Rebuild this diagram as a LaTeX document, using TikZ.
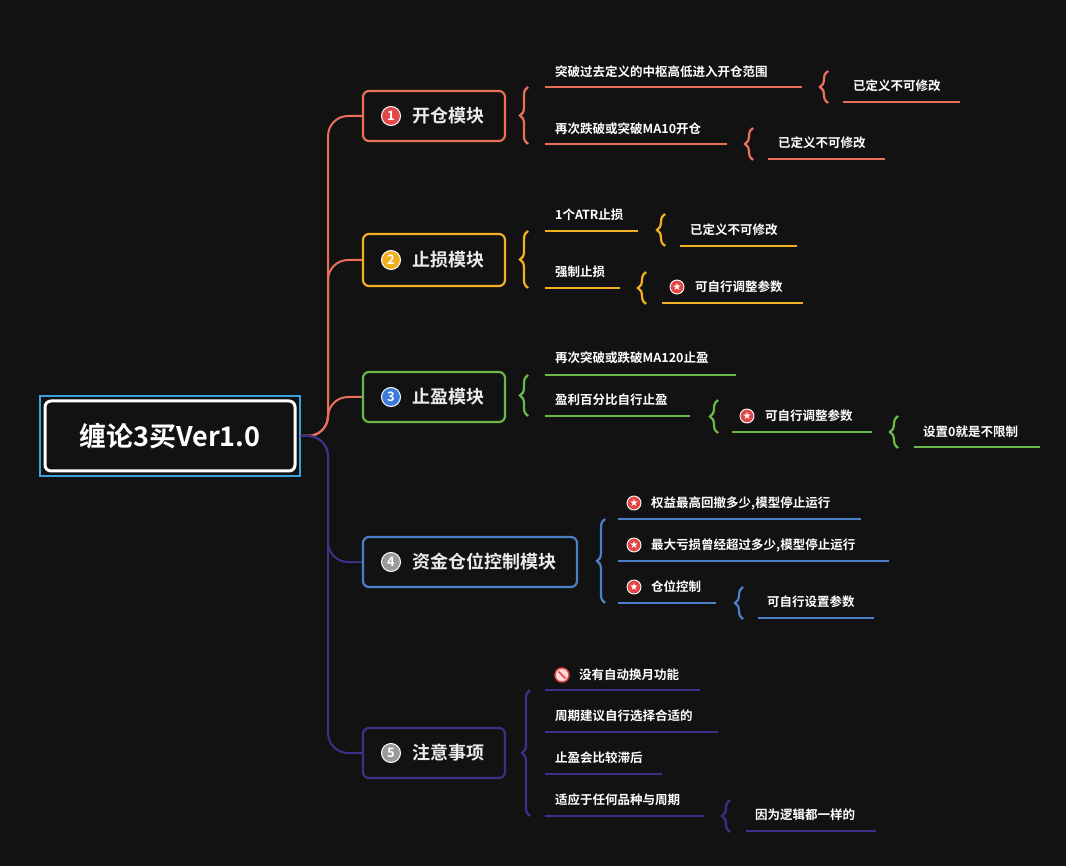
\documentclass[tikz,border=0pt]{standalone}
\usepackage{fontspec}
\setmainfont{Noto Sans CJK SC Bold}
\newfontfamily\djv{DejaVu Sans}
\usetikzlibrary{decorations.pathreplacing,calc}
\definecolor{bg}{HTML}{121212}
\definecolor{cR}{HTML}{E8705A}
\definecolor{cY}{HTML}{F0B020}
\definecolor{cG}{HTML}{6AB84A}
\definecolor{cB}{HTML}{4A80C8}
\definecolor{cP}{HTML}{3E3088}
\definecolor{cSky}{HTML}{3AA0E0}
\definecolor{icR}{HTML}{E04848}
\definecolor{icB}{HTML}{3A7ADA}
\definecolor{icG}{HTML}{9A9A9A}
\tikzset{
 lt/.style={text=white,font=\fontsize{12.5}{14}\selectfont,inner sep=0pt,anchor=west},
 ul/.style={draw=#1,line width=2pt},
 brc/.style={draw=#1,line width=2.2pt,decorate,decoration={brace,amplitude=8pt}},
 mainbox/.style={draw=#1,line width=2.2pt,rounded corners=6pt,fill=bg,minimum height=50pt,text=white!92!black,font=\fontsize{18}{20}\selectfont,inner sep=0pt},
 numic/.style={circle,fill=#1,draw=white,line width=1pt,minimum size=19pt,inner sep=0pt,text=white,font=\fontsize{13}{13}\selectfont},
 staric/.style={circle,fill=icR,draw=white,line width=0.9pt,minimum size=14pt,inner sep=0pt,text=white,font=\djv\fontsize{10}{10}\selectfont},
 conn/.style={draw=#1,line width=2pt,rounded corners=20pt},
}
\newcommand\leaf[8]{%
 \node[lt] (#1) at (#2,#3) {#8};
 \draw[ul=#7] (#4,#6) coordinate (#1a) -- (#5,#6) coordinate (#1b);}
\begin{document}
\begin{tikzpicture}[x=1pt,y=-1pt]
\fill[bg] (0,0) rectangle (1066,866);
\useasboundingbox (0,0) rectangle (1066,866);
% root
\node[draw=cSky,line width=1.2pt,minimum width=260pt,minimum height=80pt,inner sep=0pt] (rootout) at (170,436) {};
\node[draw=white,line width=3pt,rounded corners=6pt,minimum width=250pt,minimum height=70pt,text=white,font=\fontsize{27}{30}\selectfont] (root) at (170,436) {缠论3买Ver1.0};
% main nodes
\node[mainbox=cR,minimum width=142pt] (m1) at (434,116) {\hspace*{28pt}开仓模块};
\node[mainbox=cY,minimum width=142pt,minimum height=52pt] (m2) at (434,260) {\hspace*{28pt}止损模块};
\node[mainbox=cG,minimum width=142pt] (m3) at (434,397) {\hspace*{28pt}止盈模块};
\node[mainbox=cB,minimum width=214pt] (m4) at (470,562) {\hspace*{28pt}资金仓位控制模块};
\node[mainbox=cP,minimum width=142pt] (m5) at (434,753) {\hspace*{28pt}注意事项};
\node[numic=icR] (i1) at (391,116) {1};
\node[numic=cY] (i2) at (391,260) {2};
\node[numic=icB] (i3) at (391,397) {3};
\node[numic=icG] (i4) at (391,562) {4};
\node[numic=icG] (i5) at (391,753) {5};
% connectors
\draw[conn=cR] (rootout.east) -- (328,436) |- (m1.west);
\draw[conn=cR] (rootout.east) -- (328,436) |- (m2.west);
\draw[conn=cR] (rootout.east) -- (328,436) |- (m3.west);
\draw[conn=cP] (rootout.east) -- (328,436) |- (m4.west);
\draw[conn=cP] (rootout.east) -- (328,436) |- (m5.west);
% branch 1
\draw[brc=cR] (528,144) -- (528,87);
\leaf{a1}{555}{72}{545}{802}{87}{cR}{突破过去定义的中枢高低进入开仓范围}
\leaf{a2}{555}{129}{545}{727}{144}{cR}{再次跌破或突破MA10开仓}
\draw[brc=cR] (828,103) -- (828,71);
\leaf{a11}{853}{86}{843}{960}{102}{cR}{已定义不可修改}
\draw[brc=cR] (753,160) -- (753,128);
\leaf{a21}{778}{143}{768}{885}{159}{cR}{已定义不可修改}
% branch 2
\draw[brc=cY] (528,288) -- (528,231);
\leaf{b1}{555}{215}{545}{638}{231}{cY}{1个ATR止损}
\leaf{b2}{555}{272}{545}{620}{288}{cY}{强制止损}
\draw[brc=cY] (665,246) -- (665,214);
\leaf{b11}{690}{230}{680}{797}{246}{cY}{已定义不可修改}
\draw[brc=cY] (646,304) -- (646,272);
\node[staric] (s21) at (677,287) {★};
\leaf{b21}{695}{287}{662}{803}{303}{cY}{可自行调整参数}
% branch 3
\draw[brc=cG] (528,416) -- (528,375);
\leaf{c1}{555}{358}{545}{736}{375}{cG}{再次突破或跌破MA120止盈}
\leaf{c2}{555}{400}{545}{690}{416}{cG}{盈利百分比自行止盈}
\draw[brc=cG] (718,433) -- (718,400);
\node[staric] (s31) at (747,416) {★};
\leaf{c21}{765}{416}{732}{872}{432}{cG}{可自行调整参数}
\draw[brc=cG] (898,448) -- (898,416);
\leaf{c211}{923}{432}{914}{1040}{447}{cG}{设置0就是不限制}
% branch 4
\draw[brc=cB] (605,603) -- (605,519);
\node[staric] (s41) at (634,503) {★};
\leaf{d1}{651}{503}{618}{861}{519}{cB}{权益最高回撤多少,模型停止运行}
\node[staric] (s42) at (634,545) {★};
\leaf{d2}{651}{545}{618}{889}{561}{cB}{最大亏损曾经超过多少,模型停止运行}
\node[staric] (s43) at (634,587) {★};
\leaf{d3}{651}{587}{618}{716}{603}{cB}{仓位控制}
\draw[brc=cB] (743,619) -- (743,587);
\leaf{d31}{767}{602}{758}{874}{618}{cB}{可自行设置参数}
% branch 5
\draw[brc=cP] (530,816) -- (530,690);
\node[circle,draw=icR,line width=1.5pt,fill=white!85!red,minimum size=14pt,inner sep=0pt] (ban) at (562,675) {};
\draw[icR,line width=1.5pt] ($(ban.center)+(-3.5,-3.5)$) -- ($(ban.center)+(3.5,3.5)$);
\leaf{e1}{579}{675}{545}{700}{690}{cP}{没有自动换月功能}
\leaf{e2}{555}{716}{545}{718}{732}{cP}{周期建议自行选择合适的}
\leaf{e3}{555}{758}{545}{662}{774}{cP}{止盈会比较滞后}
\leaf{e4}{555}{800}{545}{704}{816}{cP}{适应于任何品种与周期}
\draw[brc=cP] (730,832) -- (730,800);
\leaf{e41}{755}{815}{746}{876}{831}{cP}{因为逻辑都一样的}
\end{tikzpicture}
\end{document}
